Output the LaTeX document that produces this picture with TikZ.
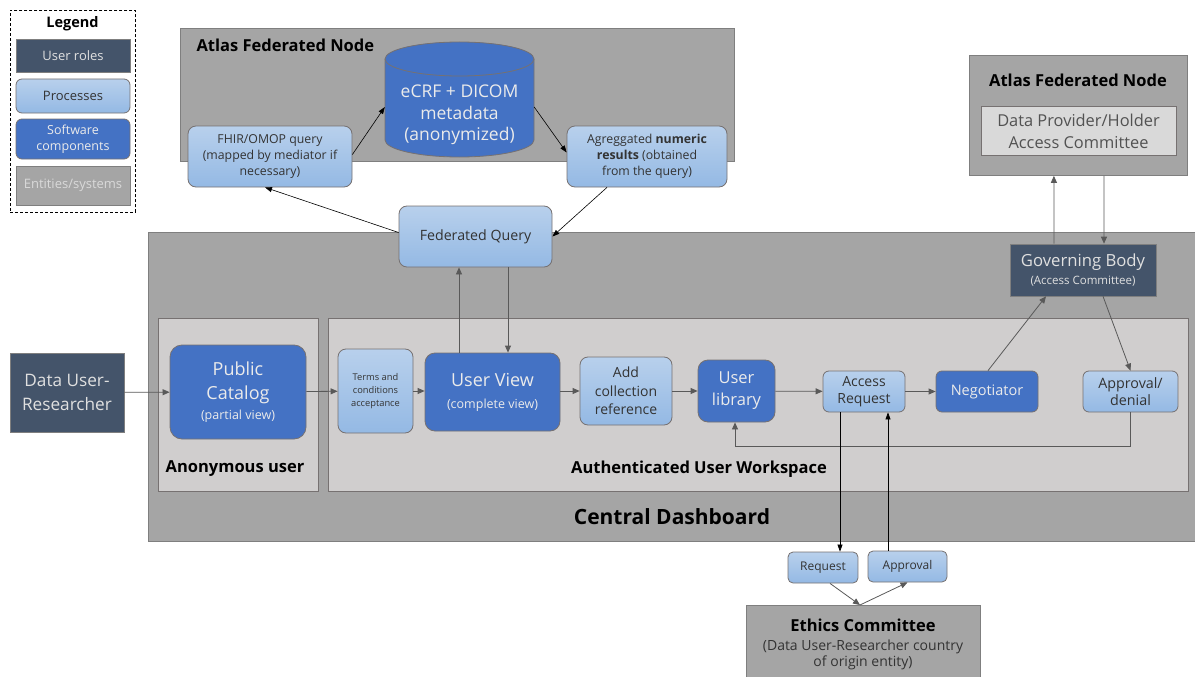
\documentclass[tikz,border=0pt]{standalone}
\usepackage{fontspec}
\setmainfont{Open Sans}
\usetikzlibrary{arrows.meta,calc}
\definecolor{roleC}{HTML}{44546A}
\definecolor{softC}{HTML}{4472C4}
\definecolor{procTop}{HTML}{B8D0EC}
\definecolor{procBot}{HTML}{94B9E4}
\definecolor{entC}{HTML}{A5A5A5}
\definecolor{entB}{HTML}{7F7F7F}
\definecolor{wsC}{HTML}{D0CECE}
\definecolor{wsB}{HTML}{767171}
\definecolor{arrC}{HTML}{595959}
\definecolor{txtC}{HTML}{333333}
\newcommand{\fs}[1]{\fontsize{#1}{1.4\dimexpr #1pt\relax}\selectfont}
\tikzset{
  role/.style={draw=entB, line width=0.6pt, fill=roleC, text=white!88!black, align=center},
  proc/.style={draw=wsB, line width=0.8pt, top color=procTop, bottom color=procBot, rounded corners=8pt, text=txtC, align=center},
  soft/.style={draw=wsB, line width=0.8pt, fill=softC, rounded corners=10pt, text=white!92!black, align=center},
  ent/.style={draw=entB, line width=0.8pt, fill=entC},
  ws/.style={draw=wsB, line width=0.8pt, fill=wsC},
  garr/.style={draw=arrC, line width=0.8pt, -{Triangle[length=7pt,width=6pt]}},
  barr/.style={draw=black, line width=0.6pt, -{Triangle[length=7pt,width=5pt]}},
  lbl/.style={font=\bfseries\fs{16.5}, text=black},
}
\begin{document}
\begin{tikzpicture}[x=1pt,y=-1pt]
\useasboundingbox (0,0) rectangle (1195,677);
% Legend
\node[draw=black, densely dashed, line width=0.6pt, minimum width=125, minimum height=202, anchor=north west] (legend) at (10,10) {};
\node[font=\bfseries\fs{14.5}] (legt) at (72.5,24) {Legend};
\node[role, minimum width=114, minimum height=33, font=\fs{13}] (leg1) at (73,55.5) {User roles};
\node[proc, rounded corners=6pt, minimum width=114, minimum height=34, font=\fs{13}] (leg2) at (73,96) {Processes};
\node[soft, rounded corners=6pt, minimum width=114, minimum height=40, font=\fs{12.5}, inner sep=1pt] (leg3) at (73,139) {Software\\[-2pt]components};
\node[ent, minimum width=114, minimum height=39, font=\fs{13}, text=white!85!black] (leg4) at (73,185.5) {Entities/systems};
% Atlas node top
\node[ent, minimum width=554, minimum height=133, anchor=north west] (atlas1) at (180,28) {};
\node[lbl, anchor=west] (atlas1t) at (193,45) {Atlas Federated Node};
\node[minimum width=149, minimum height=112, inner sep=0pt] (db) at (459.5,101) {};
\fill[softC] (385,59) -- (385,140) arc[start angle=180, end angle=0, x radius=74.5, y radius=17] -- (534,59) arc[start angle=0, end angle=-180, x radius=74.5, y radius=17] -- cycle;
\draw[wsB, line width=0.8pt] (385,59) -- (385,140) arc[start angle=180, end angle=0, x radius=74.5, y radius=17] -- (534,59);
\draw[wsB, line width=0.8pt, fill=softC] (459.5,59) ellipse[x radius=74.5, y radius=17];
\node[text=white!92!black, align=center, font=\fs{17.5}] (dbt) at (459.5,115) {eCRF + DICOM\\[-3pt]metadata\\[-3pt](anonymized)};
\node[proc, minimum width=164, minimum height=61, font=\fs{12.3}] (fhir) at (270,156.5) {FHIR/OMOP query\\[-1pt](mapped by mediator if\\[-1pt]necessary)};
\node[proc, minimum width=160, minimum height=61, font=\fs{12.3}] (agg) at (647,156.5) {Agreggated \textbf{numeric}\\[-1pt]\textbf{results} (obtained\\[-1pt]from the query)};
% Central dashboard
\node[ent, minimum width=1048, minimum height=309, anchor=north west] (central) at (148,232) {};
\node[font=\bfseries\fs{21}] (centralt) at (672,517) {Central Dashboard};
\node[ws, minimum width=160, minimum height=173, anchor=north west] (anon) at (158,318) {};
\node[lbl] (anont) at (235,469) {Anonymous user};
\node[ws, minimum width=860, minimum height=173, anchor=north west] (auth) at (328,318) {};
\node[lbl] (autht) at (699,469) {Authenticated User Workspace};
\node[proc, minimum width=153, minimum height=61, font=\fs{14.2}] (fq) at (475.5,236.5) {Federated Query};
% left
\node[role, minimum width=114, minimum height=79, font=\fs{17.2}] (dur) at (67,392.5) {Data User-\\Researcher};
\node[soft, rounded corners=12pt, minimum width=136, minimum height=94, font=\fs{18}] (pc) at (238,392) {Public\\[-1pt]Catalog\\[-5pt]{\fs{12.5}(partial view)}};
\node[proc, minimum width=75, minimum height=84, font=\fs{9.3}, inner sep=1pt] (terms) at (375.5,391) {Terms and\\conditions\\acceptance};
\node[soft, minimum width=135, minimum height=78, font=\fs{18}] (uv) at (492.5,392) {User View\\[-3pt]{\fs{12.5}(complete view)}};
\node[proc, minimum width=92, minimum height=68, font=\fs{14}] (add) at (626,391) {Add\\[-1pt]collection\\[-1pt]reference};
\node[soft, minimum width=77, minimum height=62, font=\fs{16.5}] (lib) at (736.5,391) {User\\[-1pt]library};
\node[proc, rounded corners=6pt, minimum width=82, minimum height=41, font=\fs{14}, inner sep=1pt] (ar) at (864,391.5) {Access\\[-3pt]Request};
\node[soft, rounded corners=6pt, minimum width=102, minimum height=41, font=\fs{14.5}] (neg) at (987,391.5) {Negotiator};
\node[proc, rounded corners=6pt, minimum width=95, minimum height=41, font=\fs{14.3}, inner sep=1pt] (appd) at (1130.5,391.5) {Approval/\\[-3pt]denial};
\node[role, minimum width=146, minimum height=52, font=\fs{16.7}, inner sep=1pt] (gb) at (1083,270) {Governing Body\\[-5pt]{\fs{11.5}(Access Committee)}};
% Atlas right
\node[ent, minimum width=218, minimum height=120, anchor=north west] (atlas2) at (969,55) {};
\node[lbl] (atlas2t) at (1078,80) {Atlas Federated Node};
\node[draw=wsB, line width=0.8pt, fill=white!85!black, minimum width=195, minimum height=49, font=\fs{16.4}, text=txtC!85!white, align=center, inner sep=1pt] (dp) at (1078.5,131) {Data Provider/Holder\\[-1pt]Access Committee};
% Ethics
\node[proc, rounded corners=5pt, minimum width=70, minimum height=31, font=\fs{12}] (req) at (823,567.5) {Request};
\node[proc, rounded corners=5pt, minimum width=79, minimum height=31, font=\fs{12}] (appr) at (907.5,566.5) {Approval};
\node[ent, minimum width=234, minimum height=80, anchor=north west] (eth) at (746,605) {};
\node[font=\bfseries\fs{16.5}] (etht) at (863,625) {Ethics Committee};
\node[font=\fs{14}, text=txtC, align=center] (eths) at (863,655) {(Data User-Researcher country\\[-3pt]of origin entity)};
\coordinate (ethtop) at (860,605);
% arrows
\draw[garr] (dur) -- (pc);
\draw[garr] (pc) -- (terms);
\draw[garr] (terms) -- (uv.west |- terms.center);
\draw[garr] (uv.east |- add.center) -- (add);
\draw[garr] (add) -- (lib);
\draw[garr] (lib) -- (ar);
\draw[garr] (ar) -- (neg);
\draw[garr] ([xshift=1pt]neg.north) -- ([xshift=-37pt]gb.south);
\draw[garr] ([xshift=20pt]gb.south) -- (appd.north);
\draw[garr] (appd.south) -- ++(0,34) -| ([xshift=-1.5pt]lib.south);
\draw[garr] ([xshift=-29pt]gb.north) -- ([xshift=-24.5pt]atlas2.south);
\draw[garr] ([xshift=25.5pt]atlas2.south) -- ([xshift=21pt]gb.north);
\draw[garr] ([xshift=-33.5pt]uv.north) -- ([xshift=-16.5pt]fq.south);
\draw[garr] ([xshift=32.5pt]fq.south) -- ([xshift=15.5pt]uv.north);
\draw[barr] ([yshift=4pt]fq.west) -- ([xshift=-5pt]fhir.south);
\draw[barr] ([xshift=-40pt]agg.south) -- (fq.east);
\draw[barr] ([yshift=2pt]fhir.east) -- ([yshift=-6pt]db.west);
\draw[barr] ([yshift=-6pt]db.east) -- ([yshift=4pt]agg.west);
\draw[barr] ([xshift=-24pt]ar.south) -- ([xshift=17pt]req.north);
\draw[barr] ([xshift=-19.5pt]appr.north) -- ([xshift=24pt]ar.south);
\draw[garr] ([xshift=7pt]req.south) -- (ethtop);
\draw[garr] (ethtop) -- (appr.south);
\end{tikzpicture}
\end{document}
